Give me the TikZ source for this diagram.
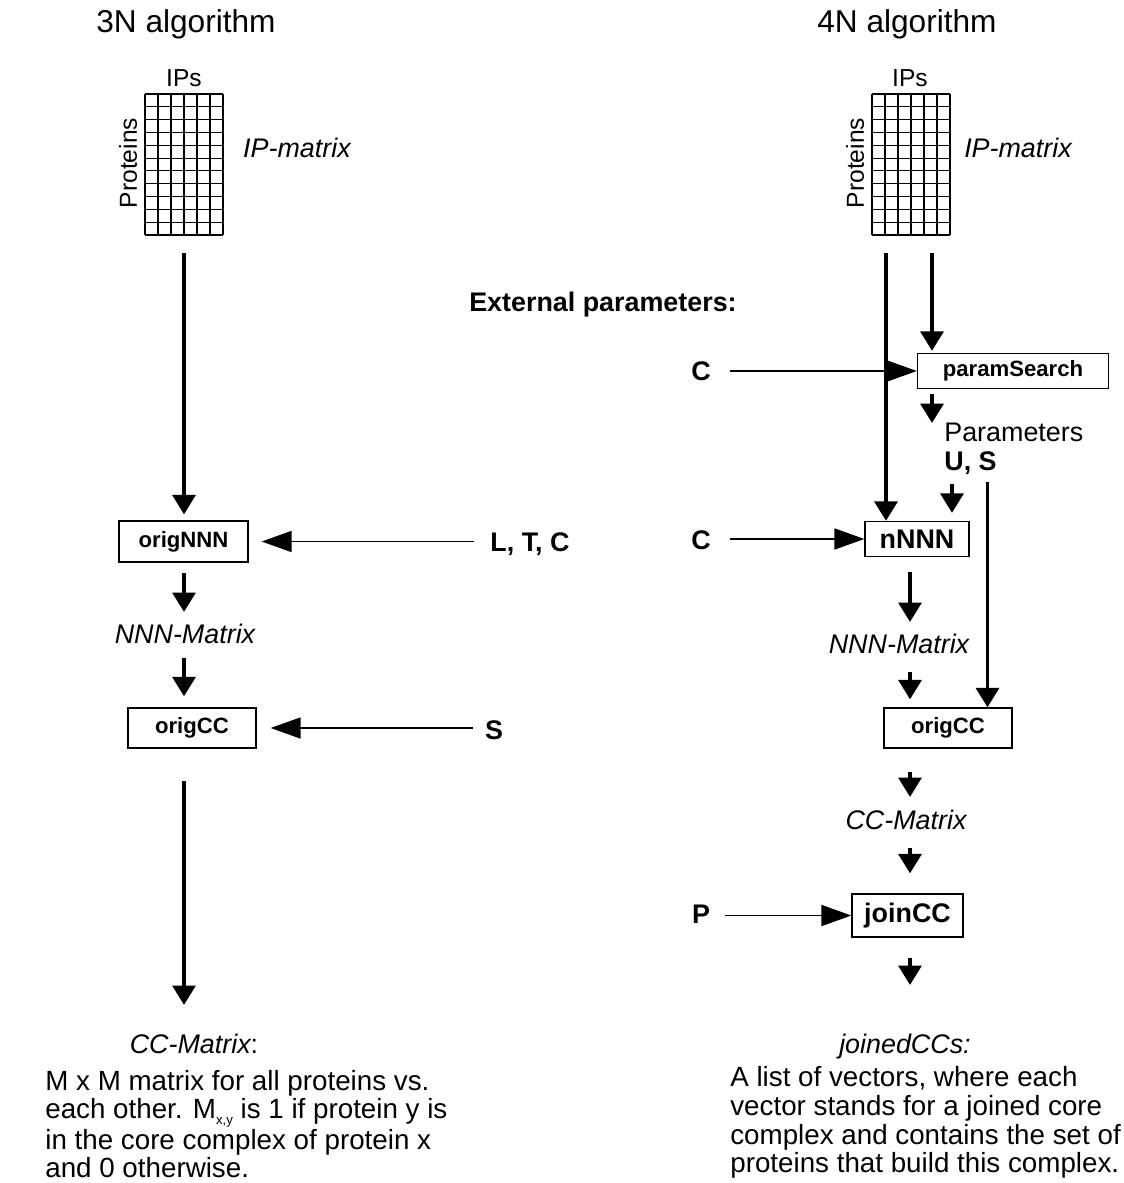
\documentclass[tikz,border=0pt]{standalone}
\usepackage{fontspec}
\setmainfont{Liberation Sans}
\usetikzlibrary{arrows.meta}

\begin{document}
\begin{tikzpicture}[
  x=0.02cm, y=-0.02cm,
  box/.style={rectangle, draw, line width=0.8pt, inner sep=0pt,
              font=\fontsize{12.6}{14}\selectfont\bfseries},
  bigbox/.style={box, font=\fontsize{15.3}{16}\selectfont\bfseries},
  txt/.style={inner sep=0pt, font=\fontsize{15.3}{16.4}\selectfont},
  lbl/.style={txt, text height=11.5pt, text depth=3pt, font=\fontsize{15.3}{16.4}\selectfont\itshape},
  param/.style={txt, font=\fontsize{15.3}{16.4}\selectfont\bfseries},
  title/.style={inner sep=0pt, font=\fontsize{18}{20}\selectfont},
  axis/.style={inner sep=0pt, font=\fontsize{14}{14}\selectfont},
  note/.style={txt, align=left, anchor=north west, font=\fontsize{15.8}{16.4}\selectfont},
  arrow/.style={line width=2pt, -{Triangle[length=11pt,width=13pt]}},
  feed/.style={line width=0.7pt, -{Triangle[length=17pt,width=12pt]}}
]
  \useasboundingbox (0,0) rectangle (1124,1183);

  % titles
  \node[title] (t3) at (186,24) {3N algorithm};
  \node[title] (t4) at (907,24) {4N algorithm};

  % IP matrices
  \foreach \gx in {145,872} {
    \foreach \i in {0,...,6}
      \draw[line width=0.6pt] (\gx+\i*13,94) -- (\gx+\i*13,235);
    \foreach \j in {0,...,11}
      \draw[line width=0.6pt] (\gx,94+\j*12.82) -- (\gx+78,94+\j*12.82);
  }
  \node[axis] (ips3) at (184,78) {IPs};
  \node[axis] (ips4) at (910,78) {IPs};
  \node[axis, rotate=90] (prot3) at (128,163) {Proteins};
  \node[axis, rotate=90] (prot4) at (855,163) {Proteins};
  \node[lbl] (ipm3) at (297,150) {IP-matrix};
  \node[lbl] (ipm4) at (1018,150) {IP-matrix};

  % 3N algorithm
  \node[box, minimum width=2.58cm, minimum height=0.82cm] (orignnn) at (183.5,541.5) {origNNN};
  \node[lbl] (nnnm3) at (185,636) {NNN-Matrix};
  \node[box, minimum width=2.56cm, minimum height=0.8cm] (origcc3) at (192,728) {origCC};
  \node[lbl] (ccm3) at (194,1046) {CC-Matrix\upshape:};
  \node[param] (ltc) at (530,544) {L, T, C};
  \node[param] (s3) at (494,730) {S};
  \node[note] (desc3) at (45,1070) {M x M matrix for all proteins vs.\\[-0.6pt]
    each other. M\smash{\raisebox{-0.45ex}{\fontsize{7.5}{7.5}\selectfont x,y}} is 1 if protein y is\\[1.2pt]
    in the core complex of protein x\\
    and 0 otherwise.};

  \coordinate (m3s) at (184,253);
  \draw[arrow, shorten >=0.12cm] (m3s) -- (m3s |- orignnn.north);
  \draw[arrow, shorten <=0.2cm, shorten >=0.22cm] (m3s |- orignnn.south) -- (m3s |- nnnm3.north);
  \draw[arrow, shorten <=0.18cm, shorten >=0.22cm] (m3s |- nnnm3.south) -- (m3s |- origcc3.north);
  \draw[arrow, shorten <=0.64cm, shorten >=0.56cm] (m3s |- origcc3.south) -- (m3s |- ccm3.north);
  \draw[feed, shorten <=0.32cm, shorten >=0.26cm] (ltc.west |- orignnn) -- (orignnn.east);
  \draw[feed, shorten <=0.23cm, shorten >=0.28cm] (s3.west |- origcc3) -- (origcc3.east);

  % 4N algorithm
  \node[param] (ext) at (603,305) {External parameters:};
  \node[box, minimum width=3.82cm, minimum height=0.7cm] (paramsearch) at (1013,371) {paramSearch\hspace{0.28cm}};
  \node[txt, anchor=north west, align=left] (params) at (944,423) {Parameters\\\textbf{U, S}};
  \node[bigbox, minimum width=2.08cm, minimum height=0.7cm] (nnnn) at (917,539) {nNNN};
  \node[lbl] (nnnm4) at (899,646) {NNN-Matrix};
  \node[box, minimum width=2.56cm, minimum height=0.8cm] (origcc4) at (948,728) {origCC};
  \node[lbl] (ccm4) at (906,822) {CC-Matrix};
  \node[bigbox, minimum width=2.22cm, minimum height=0.86cm] (joincc) at (907.5,915.5) {joinCC};
  \node[lbl] (joined) at (905,1046) {joinedCCs:};
  \node[param] (c1) at (701,371) {C};
  \node[param] (c2) at (701,540) {C};
  \node[param] (p) at (701,914) {P};
  \node[note] (desc4) at (730,1066) {A list of vectors, where each\\
    vector stands for a joined core\\
    complex and contains the set of\\
    proteins that build this complex.};

  \coordinate (m4a) at (886,253);
  \coordinate (m4b) at (932,253);
  \coordinate (ax4) at (910,600);
  \draw[arrow] (m4a) -- (m4a |- nnnn.north);
  \draw[arrow, shorten >=0.04cm] (m4b) -- (m4b |- paramsearch.north);
  \draw[feed, shorten <=0.37cm] (c1.east |- paramsearch) -- (paramsearch.west);
  \draw[arrow, shorten <=0.1cm] (m4b |- paramsearch.south) -- (m4b |- params.north);
  \draw[arrow, shorten <=0.18cm, shorten >=0.16cm]
    ([xshift=0.16cm]params.south west) -- ([xshift=0.16cm]params.south west |- nnnn.north);
  \draw[arrow, shorten <=0.14cm]
    ([xshift=0.87cm]params.south west) -- ([xshift=0.87cm]params.south west |- origcc4.north);
  \draw[feed, shorten <=0.37cm] (c2.east |- nnnn) -- (nnnn.west);
  \draw[arrow, shorten <=0.3cm, shorten >=0.22cm] (ax4 |- nnnn.south) -- (ax4 |- nnnm4.north);
  \draw[arrow, shorten <=0.26cm, shorten >=0.16cm] (ax4 |- nnnm4.south) -- (ax4 |- origcc4.north);
  \draw[arrow, shorten <=0.46cm, shorten >=0.24cm] (ax4 |- origcc4.south) -- (ax4 |- ccm4.north);
  \draw[arrow, shorten <=0.26cm, shorten >=0.4cm] (ax4 |- ccm4.south) -- (ax4 |- joincc.north);
  \draw[arrow, shorten <=0.4cm, shorten >=0.96cm] (ax4 |- joincc.south) -- (ax4 |- joined.north);
  \draw[feed, shorten <=0.3cm] (p.east |- joincc) -- (joincc.west);
\end{tikzpicture}
\end{document}
